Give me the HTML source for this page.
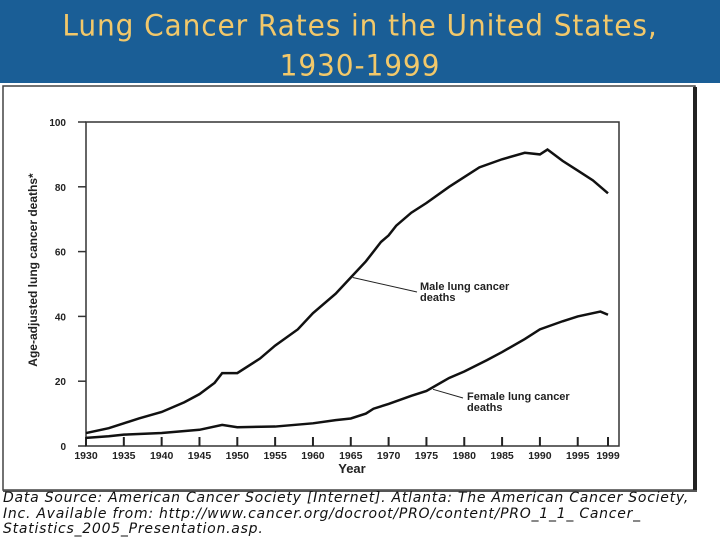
<!DOCTYPE html>
<html><head><meta charset="utf-8"><style>
body{margin:0;width:720px;height:540px;overflow:hidden;background:#fff;font-family:"Liberation Sans",sans-serif}
#hdr{position:absolute;left:0;top:0;width:720px;height:83px;background:#1a5e96}
#title{position:absolute;left:0;top:8px;width:720px;text-align:center;color:#f2c86a;font-family:"DejaVu Sans",sans-serif;font-size:28px;line-height:38px;letter-spacing:0.9px;transform:scaleY(1.05)}
#foot{position:absolute;left:3px;top:491px;width:717px;font-family:"DejaVu Sans",sans-serif;font-style:italic;font-size:14px;line-height:15.5px;color:#111;letter-spacing:0.75px;white-space:nowrap}
svg{position:absolute;left:0;top:0}
</style></head><body>
<div id="hdr"></div>
<div id="title">Lung Cancer Rates in the United States,<br>1930-1999</div>
<svg id="chart" width="720" height="540">
<rect x="3" y="86" width="692" height="404" fill="#fff" stroke="#444" stroke-width="1.5"/>
<line x1="695" y1="87" x2="695" y2="491" stroke="#222" stroke-width="4"/>
<line x1="3" y1="491" x2="697" y2="491" stroke="#555" stroke-width="2"/>
<g id="g"></g>
</svg>
<div id="foot">Data Source: American Cancer Society [Internet]. Atlanta: The American Cancer Society,<br>Inc. Available from: http://www.cancer.org/docroot/PRO/content/PRO_1_1_ Cancer_<br>Statistics_2005_Presentation.asp.</div>
<script>
const maleYears=[1930,1933,1935,1937,1940,1943,1945,1947,1948,1950,1953,1955,1958,1960,1963,1965,1967,1969,1970,1971,1973,1975,1978,1980,1982,1985,1988,1990,1991,1993,1995,1997,1999];
const maleVals=[4,5.5,7,8.5,10.5,13.5,16,19.5,22.5,22.5,27,31,36,41,47,52,57,63,65,68,72,75,80,83,86,88.5,90.5,90,91.5,88,85,82,78];
const femaleYears=[1930,1933,1935,1940,1945,1948,1950,1955,1960,1963,1965,1967,1968,1970,1973,1975,1978,1980,1983,1985,1988,1990,1993,1995,1998,1999];
const femaleVals=[2.5,3,3.5,4,5,6.5,5.8,6,7,8,8.5,10,11.5,13,15.5,17,21,23,26.5,29,33,36,38.5,40,41.5,40.5];
const xTicks=[1930,1935,1940,1945,1950,1955,1960,1965,1970,1975,1980,1985,1990,1995,1999];
const yTicks=[0,20,40,60,80,100];
const X=y=>86+(y-1930)*(608-86)/69, Y=v=>446-v*3.24;
const g=document.getElementById('g'),NS='http://www.w3.org/2000/svg';
function mk(t,a,txt){const e=document.createElementNS(NS,t);for(const k in a)e.setAttribute(k,a[k]);if(txt!==undefined)e.textContent=txt;g.appendChild(e);return e;}
let e;
e=mk('rect',{x:86,y:Y(100),width:533,height:Y(0)-Y(100),fill:'none',stroke:'#333','stroke-width':1.5});


yTicks.forEach(v=>{mk('line',{x1:78,x2:86,y1:Y(v),y2:Y(v),stroke:'#333','stroke-width':1.5});
e=mk('text',{x:66,y:Y(v)+4,'text-anchor':'end','font-size':10,'font-weight':'bold',fill:'#222'},String(v));

});
xTicks.forEach(v=>{mk('line',{x1:X(v),x2:X(v),y1:Y(0),y2:Y(0)-9,stroke:'#222','stroke-width':2});
e=mk('text',{x:X(v),y:459,'text-anchor':'middle','font-size':10.5,'font-weight':'bold',fill:'#222'},String(v));

});
e=mk('text',{x:352,y:473,'text-anchor':'middle','font-size':13,'font-weight':'bold',fill:'#222'},'Year');


e=mk('text',{x:0,y:0,transform:'translate(37,270) rotate(-90)','text-anchor':'middle','font-size':12,'font-weight':'bold',fill:'#222'},'Age-adjusted lung cancer deaths*');


e=mk('polyline',{points:maleYears.map((y,i)=>X(y)+','+Y(maleVals[i])).join(' '),fill:'none',stroke:'#111','stroke-width':2.5});


e=mk('polyline',{points:femaleYears.map((y,i)=>X(y)+','+Y(femaleVals[i])).join(' '),fill:'none',stroke:'#111','stroke-width':2.5});


mk('line',{x1:417,y1:292,x2:X(1965)+2,y2:Y(52),stroke:'#222','stroke-width':1});
mk('line',{x1:463,y1:398,x2:433,y2:Y(17.5),stroke:'#222','stroke-width':1});
e=mk('text',{x:420,y:290,'font-size':11,'font-weight':'bold',fill:'#222'},'Male lung cancer');


mk('text',{x:420,y:301,'font-size':11,'font-weight':'bold',fill:'#222'},'deaths');
e=mk('text',{x:467,y:400,'font-size':11,'font-weight':'bold',fill:'#222'},'Female lung cancer');


mk('text',{x:467,y:411,'font-size':11,'font-weight':'bold',fill:'#222'},'deaths');
</script>
</body></html>
